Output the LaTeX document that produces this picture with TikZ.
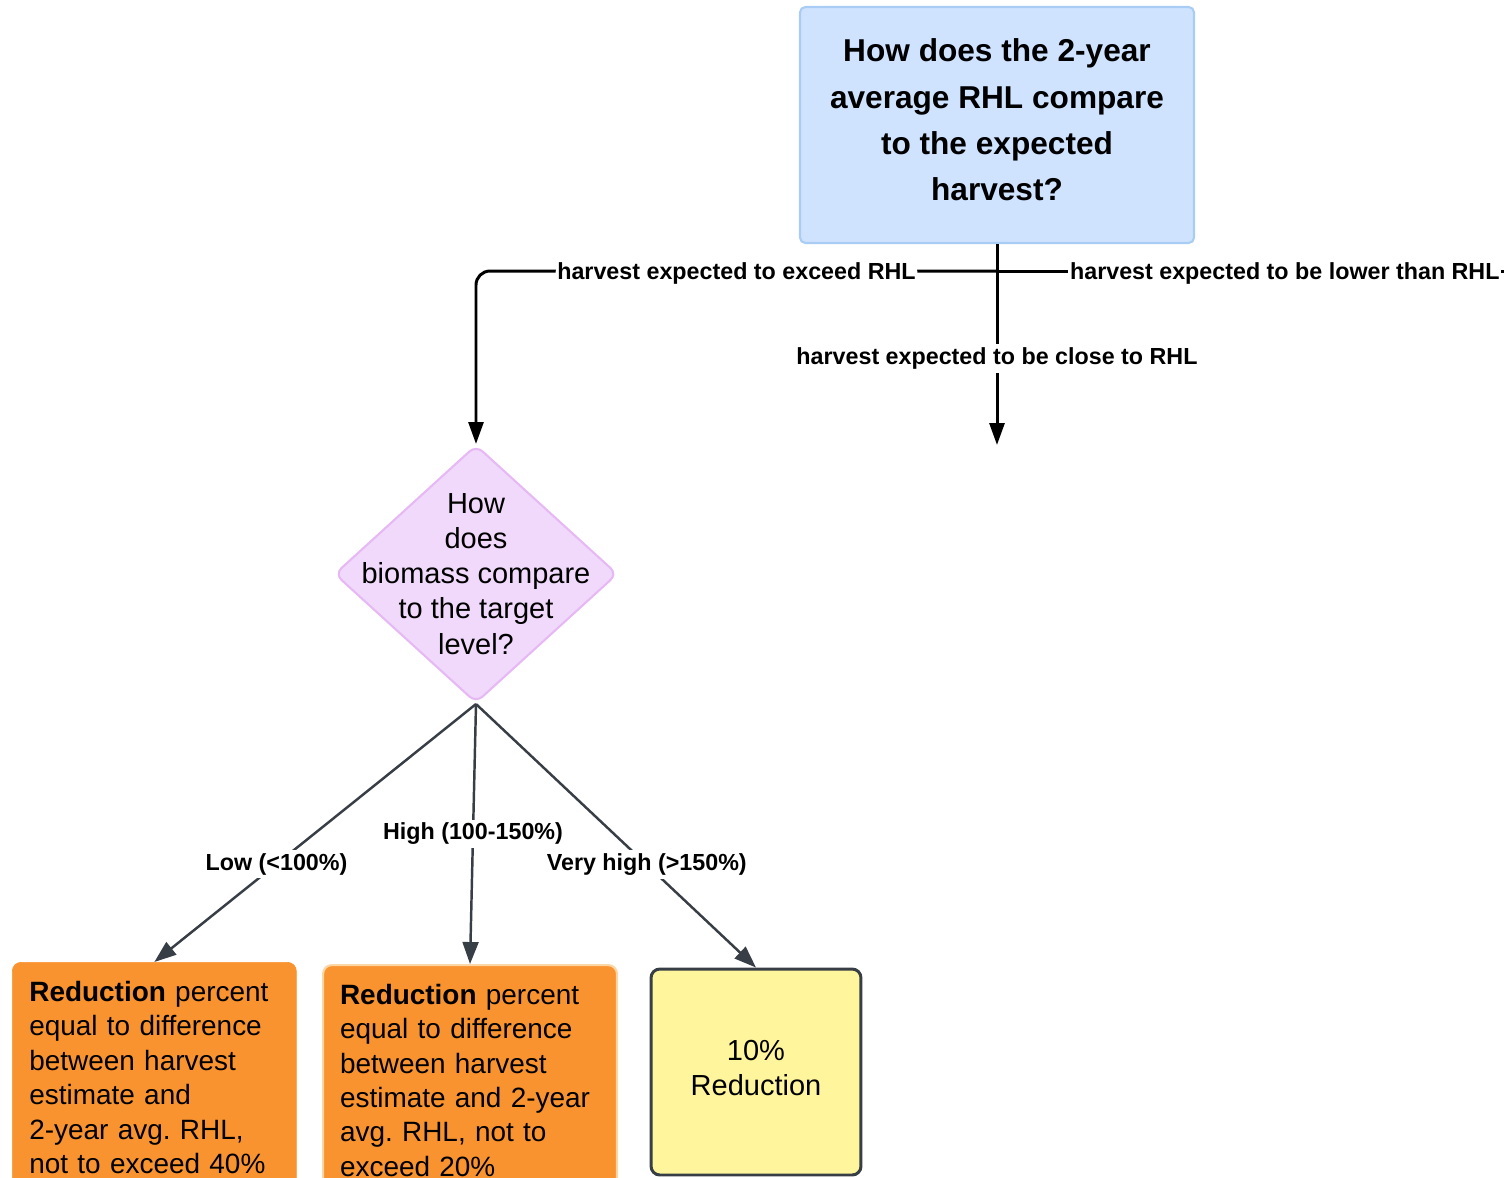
\documentclass[tikz,border=0pt]{standalone}
\usepackage{fontspec}
\setmainfont{Liberation Sans}
\usetikzlibrary{arrows.meta,shapes.geometric}

\definecolor{qblue}{HTML}{CFE3FF}
\definecolor{qblueline}{HTML}{A9CCF5}
\definecolor{qlilac}{HTML}{F1D9FC}
\definecolor{qlilacline}{HTML}{E6B9F5}
\definecolor{cutorange}{HTML}{F9932F}
\definecolor{cutorangeline}{HTML}{FDD6A6}
\definecolor{cutyellow}{HTML}{FFF59D}
\definecolor{darkline}{HTML}{383E46}

\frenchspacing
\begin{document}
\begin{tikzpicture}[x=0.02cm, y=-0.02cm,
    question/.style={draw=qblueline, fill=qblue, line width=1.2pt, rounded corners=3pt,
        minimum width=7.88cm, minimum height=4.72cm, align=center, text depth=6pt,
        font=\fontsize{18}{26.3}\selectfont\bfseries},
    decision/.style={diamond, draw=qlilacline, fill=qlilac, line width=1.2pt, rounded corners=5pt,
        minimum width=5.66cm, minimum height=5.16cm, inner sep=0pt},
    body/.style={font=\fontsize{16.5}{20}\selectfont},
    outcome/.style={font=\fontsize{15.9}{19.55}\selectfont, fill=cutorange, rounded corners=5pt,
        anchor=north west, align=left, inner xsep=0.34cm, inner ysep=0.38cm},
    fixedcut/.style={body, draw=darkline, fill=cutyellow, line width=1.7pt, rounded corners=5pt,
        minimum width=4.2cm, minimum height=4.12cm, align=center, text depth=5pt},
    lbl/.style={fill=white, inner xsep=1pt, inner ysep=2pt, font=\fontsize{13.25}{15}\selectfont\bfseries},
    flow/.style={line width=1.7pt, -{Triangle[length=12.5pt,width=8.5pt]}},
    branch/.style={draw=darkline, line width=1.4pt, -{Triangle[length=12.5pt,width=9pt]}}
]
    \useasboundingbox (0,0) rectangle (1504,1177);
    \clip (0,0) rectangle (1504,1177);

    % question boxes
    \node[question] (rhl) at (997,125) {How does the 2-year\\average RHL compare\\to the expected\\harvest?};
    \node[decision] (biomass) at (476,574) {};
    \node[body, align=center] (biomassq) at (biomass.center) {How\\does\\biomass compare\\to the target\\level?};

    % outcomes
    \node[outcome, draw=cutorange, text width=5.0cm] (lowcut) at (12,962)
        {\textbf{Reduction} percent\\equal to difference\\between harvest\\estimate and\\2-year avg. RHL,\\not to exceed 40\%};
    \node[outcome, draw=cutorangeline, line width=1.2pt, text width=5.2cm] (highcut) at (322,964)
        {\textbf{Reduction} percent\\equal to difference\\between harvest\\estimate and 2-year\\avg. RHL, not to\\exceed 20\%};
    \node[fixedcut] (vhighcut) at (756,1072) {10\%\\Reduction};

    \coordinate (split) at (997,271);
    \coordinate (closeend) at (997,445);
    \coordinate (lowerend) at (1530,271);

    % harvest branches
    \draw[flow] (rhl.south) -- node[lbl, pos=0.57] {harvest expected to be close to RHL} (closeend);
    \draw[flow, rounded corners=8pt] (split) -| node[lbl, pos=0.25, yshift=-1.5pt] {harvest expected to exceed RHL} (biomass.north);
    \draw[line width=1.7pt] (split) -- node[lbl, pos=0.54, yshift=-1.5pt] {harvest expected to be lower than RHL} (lowerend);

    % biomass branches
    \draw[branch] (biomass.south) -- node[lbl, pos=0.62] {Low (<100\%)} (lowcut.north);
    \draw[branch] (biomass.south) -- node[lbl, pos=0.5] {High (100-150\%)} (highcut.north);
    \draw[branch] (biomass.south) -- node[lbl, pos=0.61] {Very high (>150\%)} (vhighcut.north);
\end{tikzpicture}
\end{document}
